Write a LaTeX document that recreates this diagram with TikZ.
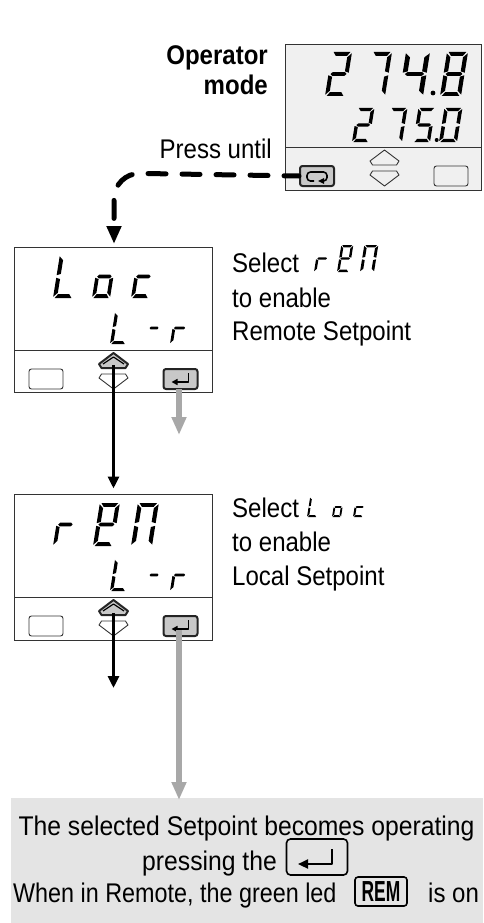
\documentclass[tikz,border=0pt]{standalone}
\usepackage{fontspec}
\setmainfont[FakeStretch=0.89]{Liberation Sans}
\newfontfamily\remfont[FakeStretch=0.6]{Liberation Sans}
\newfontfamily\widefont[FakeStretch=0.915]{Liberation Sans}
\newfontfamily\narrowfont[FakeStretch=0.865]{Liberation Sans}
\usetikzlibrary{arrows.meta}
\definecolor{btngray}{HTML}{C8C8C8}
\definecolor{arrgray}{HTML}{A8A8A8}
\definecolor{dispgray}{HTML}{F0F0F0}
\definecolor{panelgray}{HTML}{E4E4E4}
\definecolor{edge}{HTML}{333333}
\def\sega{\fill (.08,0)--(.92,0)--(.78,.09)--(.22,.09)--cycle;}
\def\segb{\fill (1,.03)--(1,.47)--(.8,.44)--(.8,.12)--cycle;}
\def\segc{\fill (1,.53)--(1,.97)--(.8,.88)--(.8,.56)--cycle;}
\def\segd{\fill (.22,.91)--(.78,.91)--(.92,1)--(.08,1)--cycle;}
\def\sege{\fill (0,.53)--(.2,.56)--(.2,.88)--(0,.97)--cycle;}
\def\segf{\fill (0,.03)--(.2,.12)--(.2,.44)--(0,.47)--cycle;}
\def\segg{\fill (.1,.5)--(.2,.455)--(.8,.455)--(.9,.5)--(.8,.545)--(.2,.545)--cycle;}
% x0 (bottom left), ytop, W, H, segments
\newcommand{\sevenseg}[5]{\begin{scope}[shift={(#1+0.16*#4,#2)},xslant=0.16,x=#3pt,y=-#4pt]
\foreach \s in {#5}{\csname seg\s\endcsname}
\end{scope}}
\tikzset{
  panelbox/.style={draw=edge,line width=0.9pt,minimum width=198pt,inner sep=0pt,outer sep=0pt},
  softkey/.style={draw=edge,line width=0.9pt,rounded corners=2.5pt,minimum width=34pt,minimum height=20pt,inner sep=0pt},
  hardkey/.style={draw=edge!70!black,fill=btngray,line width=2pt,rounded corners=2.5pt,minimum width=34pt,minimum height=20pt,inner sep=0pt},
  txt/.style={anchor=base west,inner sep=0pt,font=\fontsize{27}{27}\selectfont},
  upkey/.style={draw=edge,line width=0.9pt,line join=round},
  activeup/.style={draw=black!85,fill=btngray,line width=2pt,line join=round},
  blackarrow/.style={draw=black,line width=3.2pt,-{Triangle[width=11pt,length=12pt]}},
  grayarrow/.style={draw=arrgray,line width=6pt,-{Triangle[width=14pt,length=18pt]}},
  symb/.style={draw=black,line width=1.6pt,line join=round}
}
\newcommand{\upkeyshape}[3]{% cx, top, style
 \draw[#3] (#1,#2)--(#1+14.5,#2+11)--(#1+12,#2+15)--(#1-12,#2+15)--(#1-14.5,#2+11)--cycle;}
\newcommand{\downkeyshape}[2]{%
 \draw[upkey] (#1-14.5,#2+4)--(#1-12,#2)--(#1+12,#2)--(#1+14.5,#2+4)--(#1,#2+15)--cycle;}
\newcommand{\entersym}[2]{% cx, cy
 \draw[symb,line width=1.6pt,-{Triangle[width=6pt,length=6pt]}] (#1+8,#2-6)--(#1+8,#2+3)--(#1-9,#2+3);}
\begin{document}
\begin{tikzpicture}[x=1pt,y=-1pt]
\useasboundingbox (0,0) rectangle (483,923);
% Panel at bottom
\node[fill=panelgray,minimum width=472pt,minimum height=125pt,inner sep=0pt,outer sep=0pt] (note) at (247,860.5) {};

% Box 1
\node[panelbox,fill=dispgray,minimum width=196pt,minimum height=145.5pt] (box1) at (383,117.2) {};
\draw[edge,line width=0.9pt] (box1.west |- 0,147) -- (box1.east |- 0,147);
\sevenseg{325}{52}{20}{44}{a,b,g,e,d}
\sevenseg{365}{52}{20}{44}{a,b,c}
\sevenseg{399}{52}{24}{44}{f,g,b,c}
\fill (433,93) circle (2.4);
\sevenseg{440}{52}{21}{44}{a,b,c,d,e,f,g}
\sevenseg{352}{108}{17}{34}{a,b,g,e,d}
\sevenseg{385}{108}{17}{34}{a,b,c}
\sevenseg{413}{108}{17}{34}{a,f,g,c,d}
\fill (436.7,140) circle (2);
\sevenseg{439}{108}{18}{34}{a,b,c,d,e,f}
\node[hardkey] (loop) at (317,176) {};
\draw[symb,rounded corners=3.5pt] (314,181)--(307,181)--(307,172)--(327,172)--(327,181)--(322,181);
\fill (324,178)--(324,184)--(318,181)--cycle;
\upkeyshape{384.5}{150}{upkey}
\downkeyshape{384.5}{171}
\node[softkey] (free1) at (451,176) {};

% Box 2
\node[panelbox,minimum height=145pt] (box2) at (113.5,320) {};
\draw[edge,line width=0.9pt] (box2.west |- 0,350) -- (box2.east |- 0,350);
\sevenseg{53}{255}{20}{43}{f,e,d}
\sevenseg{92}{255}{18}{43}{g,c,d,e}
\sevenseg{131}{255}{18}{43}{g,e,d}
\sevenseg{110}{312}{16}{32}{f,e,d}
\sevenseg{146}{312}{11}{32}{g}
\sevenseg{170}{312}{14}{32}{g,e}
\node[softkey] (free2) at (46,379) {};
\upkeyshape{113.5}{353}{activeup}
\draw[symb,line width=1.2pt] (103,364)--(113.5,357)--(124,364);
\downkeyshape{113.5}{374}
\node[hardkey] (ent2) at (180.5,379) {};
\entersym{180.5}{379}

% Box 3
\node[panelbox,minimum height=146pt] (box3) at (113.5,567.5) {};
\draw[edge,line width=0.9pt] (box3.west |- 0,597.5) -- (box3.east |- 0,597.5);
\sevenseg{53}{503}{18}{43}{g,e}
\sevenseg{93}{503}{20}{43}{a,b,d,e,f,g}
\sevenseg{131}{503}{21}{43}{a,b,c,e,f}
\sevenseg{110}{559}{16}{32}{f,e,d}
\sevenseg{146}{559}{11}{32}{g}
\sevenseg{170}{559}{14}{32}{g,e}
\node[softkey] (free3) at (46,626) {};
\upkeyshape{113.5}{600}{activeup}
\draw[symb,line width=1.2pt] (103,611)--(113.5,604)--(124,611);
\downkeyshape{113.5}{621}
\node[hardkey] (ent3) at (180.5,626) {};
\entersym{180.5}{626}

% Connector coordinates
\coordinate (up2) at (113.5,365);
\coordinate (up3) at (113.5,613);
\coordinate (end3) at (113.5,688);
\coordinate (end2) at (179,435);
\coordinate (gstart2) at (179,389);
\coordinate (gstart3) at (179,630);
\coordinate (corner) at (114,173);

% Connectors
\draw[black,line width=5pt,line cap=round,dash pattern=on 18pt off 16pt,dash phase=3pt,-{Triangle[width=14pt,length=18pt]},rounded corners=26pt,shorten >=3.5pt]
  (loop.west) -- (corner) -- (corner |- box2.north);
\draw[blackarrow,shorten >=6pt] (up2) -- (up2 |- box3.north);
\draw[blackarrow] (up3) -- (end3);
\draw[grayarrow] (gstart2) -- (end2);
\draw[grayarrow,shorten >=-2pt] (gstart3) -- (gstart3 |- note.north);

% Labels
\node[txt,anchor=base east,font=\fontsize{27}{27}\selectfont\bfseries] (op) at (268,65) {Operator};
\node[txt,anchor=base east,font=\fontsize{27}{27}\selectfont\bfseries] (mode) at (268,95) {mode};
\node[txt,anchor=base east] (press) at (272,158) {Press until};

\node[txt] (sel1) at (232,272) {Select};
\sevenseg{314}{245}{12}{27}{g,e}
\sevenseg{337}{245}{12}{27}{a,b,d,e,f,g}
\sevenseg{360}{245}{14}{27}{a,b,c,e,f}
\node[txt] (en1) at (232,307) {to enable};
\node[txt] (rem1) at (232,340) {Remote Setpoint};

\node[txt] (sel2) at (232,517) {Select};
\sevenseg{307}{497}{10}{20}{f,e,d}
\sevenseg{332}{497}{9}{20}{g,c,d,e}
\sevenseg{353}{497}{10}{20}{g,e,d}
\node[txt] (en2) at (232,551) {to enable};
\node[txt] (loc2) at (232,585) {Local Setpoint};

\node[txt,anchor=base,font=\widefont\fontsize{27}{27}\selectfont] (l1) at (246.5,835) {The selected Setpoint becomes operating};
\node[txt,anchor=base west,font=\widefont\fontsize{27}{27}\selectfont] (l2) at (142,870) {pressing the};
\node[draw=black,line width=1.6pt,rounded corners=4pt,minimum width=61pt,minimum height=36pt,inner sep=0pt] (ret) at (317,857) {};
\draw[symb,line width=2.2pt,-{Triangle[width=9pt,length=10pt]}] (332,849)--(332,864)--(298,864);
\node[txt,font=\narrowfont\fontsize{27}{27}\selectfont] (l3) at (13,902) {When in Remote, the green led};
\node[draw=black,line width=1.6pt,rounded corners=3pt,minimum width=52pt,minimum height=29pt,inner sep=0pt,font=\remfont\bfseries\fontsize{29}{29}\selectfont] (led) at (381,891.5) {REM};
\node[txt] (l4) at (428,902) {is on};
\end{tikzpicture}
\end{document}
